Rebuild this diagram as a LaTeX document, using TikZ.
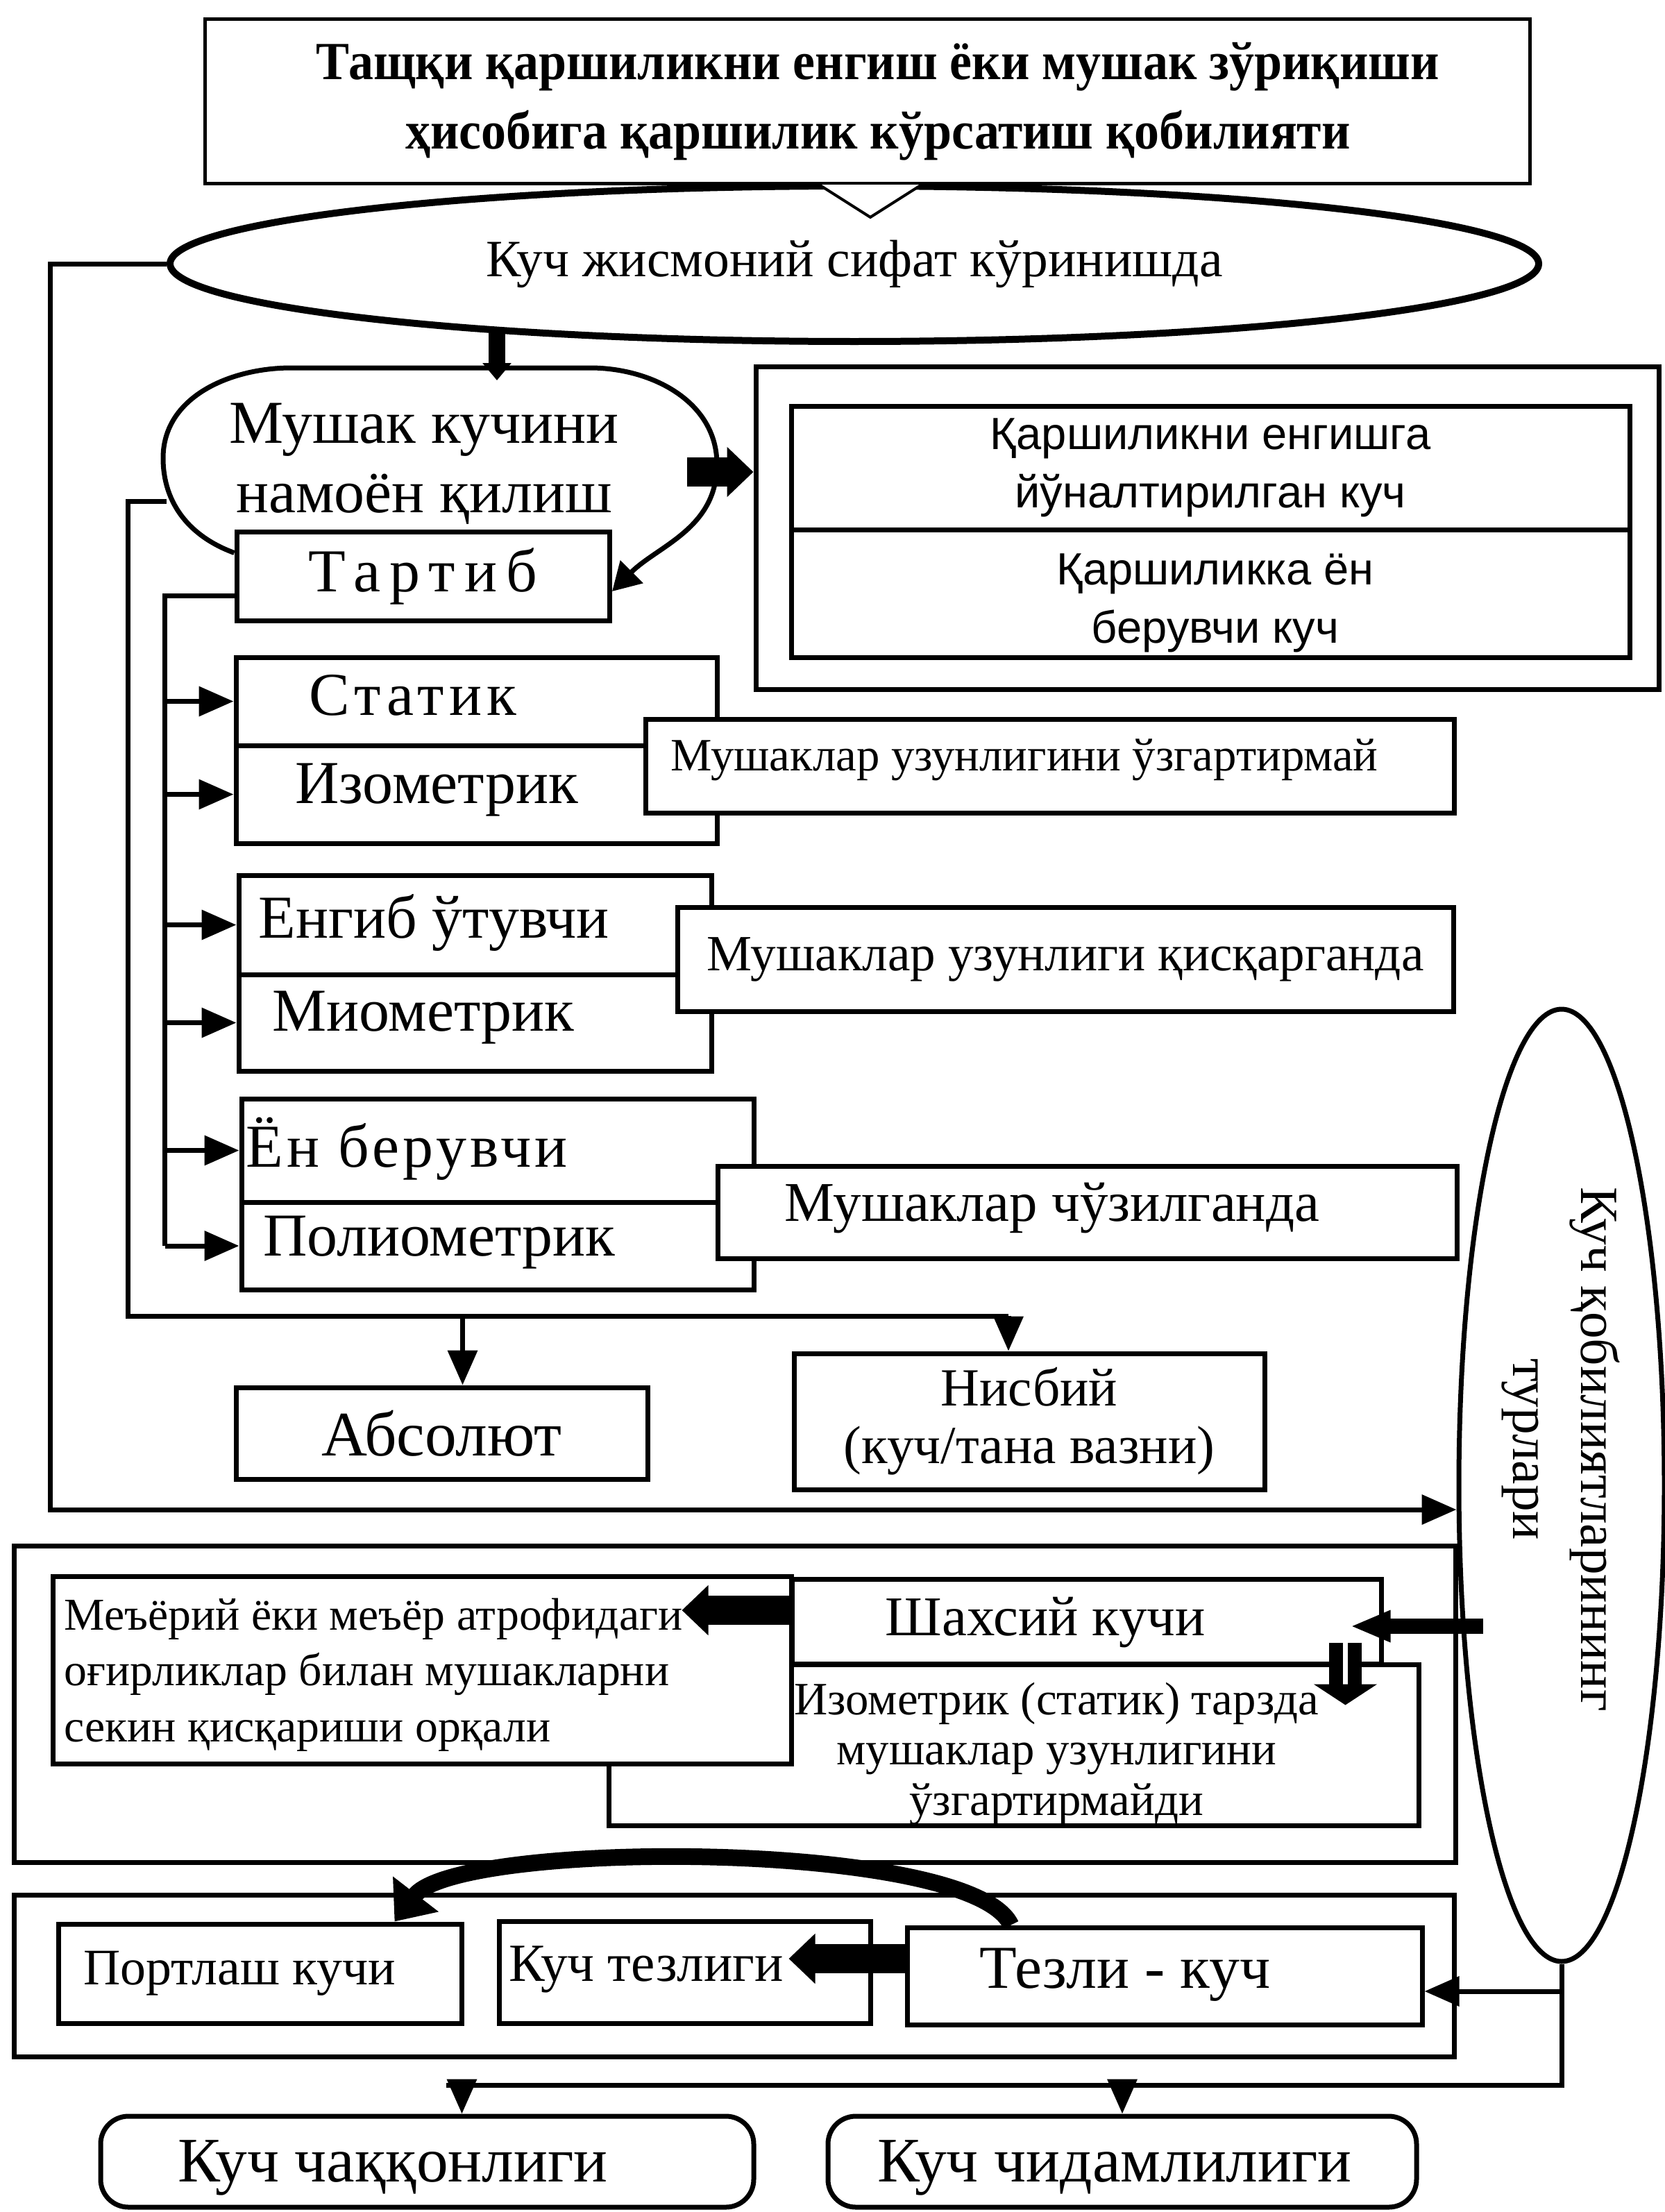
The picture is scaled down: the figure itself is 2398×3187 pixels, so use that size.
\documentclass[tikz,border=0pt]{standalone}
\usepackage{fontspec}
\setmainfont{Liberation Serif}
\newfontfamily\sansfam{Liberation Sans}
\newfontfamily\condfam[FakeStretch=0.93]{Liberation Serif}
\usetikzlibrary{arrows.meta, positioning, calc, shapes.geometric}
\newcommand{\fsz}[2]{\fontsize{#1}{#2}\selectfont}
\newcommand{\spaced}[1]{\addfontfeature{LetterSpace=#1}}

\begin{document}
\begin{tikzpicture}[x=0.1mm, y=-0.1mm,
    box/.style={draw, line width=0.7mm, rectangle, inner sep=0pt},
    wbox/.style={box, fill=white},
    oval/.style={draw, ellipse, line width=1mm, inner sep=0pt},
    txt/.style={inner sep=0pt, align=center},
    bigtxt/.style={txt, font=\fsz{25}{30}},
    midtxt/.style={txt, font=\fsz{21}{24}},
    smalltxt/.style={txt, font=\fsz{19}{23}},
    wire/.style={line width=0.7mm},
    tri/.style={line width=0.7mm, -{Triangle[length=5mm, width=4.2mm]}},
    fatarrow/.style={line width=4.2mm, -{Triangle[length=3.8mm, width=7mm]}},
    medarrow/.style={line width=2.2mm, -{Triangle[length=5.8mm, width=4.2mm]}},
    dblarrow/.style={line width=2mm, double distance=0.7mm, -{Triangle[length=3mm, width=9mm]}},
    arcarrow/.style={line width=2.4mm, -{Triangle[length=5mm, width=8mm]}}]
    \useasboundingbox (0,0) rectangle (2398,3187);

    % title and the oval under it
    \node[box, line width=0.5mm, minimum width=190.9mm, minimum height=23.7mm] (title) at (1250,146) {};
    \node[txt, font=\condfam\bfseries\fsz{22}{28.5}] (titleT) at (1265,146)
          {Тащқи қаршиликни енгиш ёки мушак зўриқиши\\ҳисобига қаршилик кўрсатиш қобилияти};
    \node[oval, minimum width=197.2mm, minimum height=22.4mm, font=\fsz{21.5}{24}] (sifat) at (1231,380)
          {Куч жисмоний сифат кўринишда};
    \fill[white] (1180,266) -- (1254,313) -- (1328,266) -- cycle;
    \draw[line width=0.4mm] (1180,266) -- (1254,313) -- (1328,266);

    % muscle work loop
    \node[bigtxt, font=\fsz{25}{28.5}] (mushak) at (611,668) {Мушак кучини\\намоён қилиш};
    \node[wbox, minimum width=53.7mm, minimum height=12.8mm, bigtxt, font=\fsz{25}{30}\spaced{15}]
          (tartib) at (609.5,830) {Тартиб};
    \draw[wire, -{Triangle[length=4mm, width=4.5mm]}] (tartib.north west) ++(0,34)
        to[out=160, in=270] (235,660) to[out=90, in=180] (420,530) -- (850,530)
        to[out=0, in=90] (1033,669) to[out=270, in=45] (882,852);
    \coordinate (ml) at (240,722);
    \coordinate (a1) at (716,472);
    \draw[line width=2.4mm, -{Triangle[length=2.5mm, width=4mm]}] (a1) -- (716,548);

    % two kinds of force
    \node[box, minimum width=130.1mm, minimum height=46.5mm] (kuchgrp) at (1739.5,760.5) {};
    \node[box, minimum width=120.8mm, minimum height=17.8mm, txt, font=\sansfam\fsz{18.5}{24}] (kuch1)
          at (1744,674) {Қаршиликни енгишга\\йўналтирилган куч};
    \node[box, minimum width=120.8mm, minimum height=18.4mm] (kuch2) at (1744,855) {};
    \node[txt, font=\sansfam\fsz{18.5}{24}] (kuch2T) at (1751,869) {Қаршиликка ён\\берувчи куч};
    \coordinate (m1) at (990,680);
    \draw[fatarrow] (m1) -- (m1 -| kuchgrp.west);

    % regimes
    \node[box, minimum width=69.3mm, minimum height=12.7mm] (statik) at (686.5,1010.5) {};
    \node[box, minimum width=69.3mm, minimum height=14.1mm] (izometrik) at (686.5,1144.5) {};
    \node[wbox, minimum width=116.5mm, minimum height=13.5mm] (ozgartir) at (1512.5,1103.5) {};
    \node[txt, font=\fsz{19}{24}] (ozgartirT) at (1476,1095) {Мушаклар узунлигини ўзгартирмай};
    \node[bigtxt, font=\fsz{25}{30}\spaced{8.5}] (statikT) at (595,1002) {Статик};
    \node[bigtxt] (izometrikT) at (629,1138) {Изометрик};

    \node[box, minimum width=68.1mm, minimum height=14.3mm] (engib) at (684.5,1332.5) {};
    \node[box, minimum width=68.1mm, minimum height=13.9mm] (miom) at (684.5,1473.5) {};
    \node[wbox, minimum width=111.8mm, minimum height=15mm, midtxt, font=\fsz{20.8}{24}] (qisqar)
          at (1535,1382) {Мушаклар узунлиги қисқарганда};
    \node[bigtxt] (engibT) at (625,1330) {Енгиб ўтувчи};
    \node[bigtxt] (miomT) at (610,1466) {Миометрик};

    \node[box, minimum width=73.8mm, minimum height=14.9mm] (enber) at (717,1657.5) {};
    \node[box, minimum width=73.8mm, minimum height=12.6mm] (poliom) at (717,1795) {};
    \node[wbox, minimum width=106.5mm, minimum height=13.3mm] (chozil) at (1566.5,1746.5) {};
    \node[bigtxt, font=\fsz{25}{30}\spaced{6}] (enberT) at (586,1655) {Ён берувчи};
    \node[bigtxt] (poliomT) at (633,1790) {Полиометрик};
    \node[txt, font=\fsz{23}{26}] (chozilT) at (1516,1741) {Мушаклар чўзилганда};

    \draw[wire] ($(tartib.west)+(0,28)$) -- ++(-100,0) coordinate (brk) -- (brk |- poliom.west);
    \foreach \n in {statik,izometrik,engib,miom,enber,poliom}
        \draw[tri] (brk |- \n.west) -- (\n.west);

    % absolute and relative
    \node[box, minimum width=59.3mm, minimum height=13.2mm, txt, font=\fsz{26}{30}] (absolut)
          at (636.5,2065) {Абсолют};
    \node[box, minimum width=67.8mm, minimum height=19.6mm, txt, font=\fsz{22}{23.6}] (nisbiy)
          at (1483,2048) {Нисбий\\(куч/тана вазни)};
    \coordinate (bus) at (184,1896);
    \draw[wire] (ml) -| (bus) -- ($(bus -| nisbiy.north)+(-30,0)$);
    \draw[tri] ($(bus -| absolut.north)+(30,0)$) -- ($(absolut.north)+(30,0)$);
    \draw[tri] ($(bus -| nisbiy.north)+(-30,0)$) -- ($(nisbiy.north)+(-30,0)$);

    % kinds of force abilities
    \node[oval, line width=0.7mm, minimum width=29.6mm, minimum height=137.2mm] (turlari) at (2250,2140) {};
    \node[txt, rotate=-90, font=\fsz{22}{28}] (turlariT) at (2249,2088) {Куч қобилиятларининг\\турлари};
    \draw[tri] (sifat.west) -- ++(-168,0) |- ($(turlari.west)+(0,35)$);

    % own force group
    \node[box, minimum width=207.7mm, minimum height=45.6mm] (midgrp) at (1058.5,2455) {};
    \node[box, minimum width=116.7mm, minimum height=23.2mm] (izom) at (1460.5,2514) {};
    \node[wbox, minimum width=106.4mm, minimum height=27mm] (meyor) at (608,2406) {};
    \node[smalltxt, font=\fsz{18.7}{23}, align=left, anchor=west] (meyorT) at (92,2413)
          {Меъёрий ёки меъёр атрофидаги\\оғирликлар билан мушакларни\\секин қисқариши орқали};
    \node[wbox, minimum width=84.9mm, minimum height=12.2mm] (shaxsiy) at (1565.5,2336) {};
    \node[txt, font=\fsz{23}{26}] (shaxsiyT) at (1506,2338) {Шахсий кучи};
    \node[smalltxt, font=\fsz{19}{20.5}] (izomT) at (1522,2527)
          {Изометрик (статик) тарзда\\мушаклар узунлигини\\ўзгартирмайди};
    \draw[fatarrow] ($(shaxsiy.west)+(0,-16)$) -- ++(-155,0);
    \draw[medarrow] ($(turlari.west)+(38,203)$) -- ($(shaxsiy.east)+(-48,7)$);
    \draw[dblarrow] ($(shaxsiy.south east)+(-55,-34)$) -- ($(shaxsiy.south east)+(-55,56)$);

    % speed-force group
    \node[box, minimum width=207.5mm, minimum height=23.3mm] (botgrp) at (1057.5,2846.5) {};
    \node[box, minimum width=58.1mm, minimum height=14.3mm] (portlash) at (374.5,2843.5) {};
    \node[box, minimum width=53.5mm, minimum height=14.7mm] (tezlik) at (986.5,2841.5) {};
    \node[box, minimum width=74.2mm, minimum height=14mm] (tezli) at (1678,2847) {};
    \node[txt, font=\fsz{21}{24}] (portlashT) at (345,2843) {Портлаш кучи};
    \node[txt, font=\fsz{22}{24}] (tezlikT) at (931,2837) {Куч тезлиги};
    \node[txt, font=\fsz{25}{28}] (tezliT) at (1621,2845) {Тезли - куч};
    \draw[arcarrow] ($(tezli.north west)+(153,0)$) .. controls (1400,2650) and (660,2650)
        .. ($(portlash.north east)+(-100,0)$);
    \draw[fatarrow] ($(tezli.west)+(0,-25)$) -- ++(-167,0);

    % agility and endurance
    \node[box, rounded corners=4mm, minimum width=94.1mm, minimum height=13.1mm] (chaqq) at (615.5,3114.5) {};
    \node[box, rounded corners=4mm, minimum width=84.8mm, minimum height=13.1mm] (chidam) at (1617,3114.5) {};
    \node[txt, font=\fsz{26}{30}] (chaqqT) at (566,3123) {Куч чаққонлиги};
    \node[txt, font=\fsz{26}{30}] (chidamT) at (1606,3123) {Куч чидамлилиги};
    \coordinate (tk) at ($(tezli.east)+(0,22)$);
    \draw[tri] (turlari.south |- tk) -- (tk);
    \draw[wire] (turlari.south) -- ++(0,175) coordinate (bj) -- ($(bj -| chaqq.north)+(27,0)$);
    \draw[tri] ($(bj -| chaqq.north)+(50,0)$) -- ($(chaqq.north)+(50,0)$);
    \draw[tri] (bj -| chidam.north) -- (chidam.north);
\end{tikzpicture}
\end{document}
